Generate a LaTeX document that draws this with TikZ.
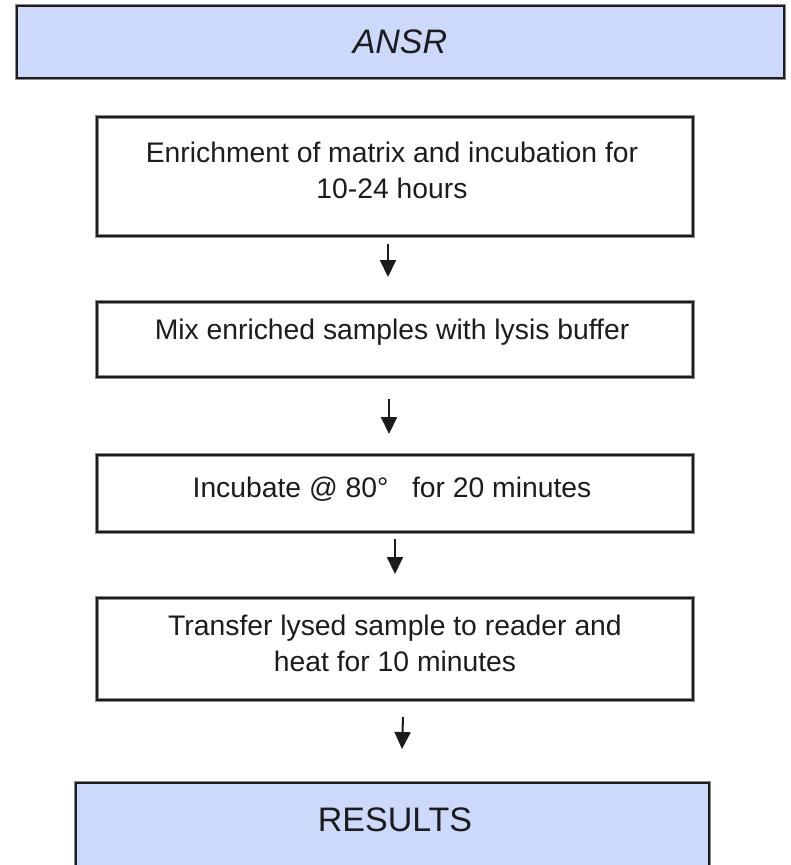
\documentclass[tikz,border=0pt]{standalone}
\usepackage{fontspec}
\setmainfont{Liberation Sans}
\usetikzlibrary{arrows.meta}
\definecolor{boxblue}{RGB}{204,217,250}
\definecolor{ink}{RGB}{28,28,28}
\begin{document}
\begin{tikzpicture}[x=1pt,y=-1pt,
  stepbox/.style={draw=ink, line width=2pt, inner sep=0pt, minimum width=596pt,
    preaction={draw=black!45, line width=3.6pt}},
  bluebox/.style={stepbox, fill=boxblue},
  txt/.style={font=\fontsize{28.3}{36}\selectfont, text=ink, align=center, inner sep=0pt},
  bigtxt/.style={font=\fontsize{34}{40}\selectfont, text=ink, inner sep=0pt},
  arr/.style={draw=ink, line width=2pt, -{Triangle[width=16pt,length=17pt]}}]
\useasboundingbox (0,0) rectangle (791,865);
\clip (0,0) rectangle (791,865);

% header
\node[bluebox, minimum width=767pt, minimum height=72pt] (ansr) at (400.5,42) {};
\node[bigtxt, font=\fontsize{34}{40}\selectfont\itshape] (ansrt) at (400,42) {ANSR};

% steps
\node[stepbox, minimum height=119pt] (b1) at (395,176.5) {};
\node[txt] (t1) at (392,170) {Enrichment of matrix and incubation for\\10-24 hours};

\node[stepbox, minimum height=75pt] (b2) at (395,339.5) {};
\node[txt] (t2) at (392,332.5) {Mix enriched samples with lysis buffer};

\node[stepbox, minimum height=77pt] (b3) at (395,493.5) {};
\node[txt] (t3) at (392,489.5) {Incubate @ 80°\ \ \ for 20 minutes};

\node[stepbox, minimum height=102pt] (b4) at (395,649) {};
\node[txt] (t4) at (395,643) {Transfer lysed sample to reader and\\heat for 10 minutes};

% results
\node[bluebox, minimum width=633pt, minimum height=140pt] (res) at (392.5,853) {};
\node[bigtxt] (rest) at (395,820) {RESULTS};

% arrows
\draw[arr, shorten <=7pt, shorten >=24pt] ([xshift=-7pt]b1.south) -- ([xshift=-7pt]b2.north);
\draw[arr, shorten <=21pt, shorten >=20pt] ([xshift=-6pt]b2.south) -- ([xshift=-6pt]b3.north);
\draw[arr, shorten <=6pt, shorten >=23pt] (b3.south) -- (b4.north);
\draw[arr, shorten <=16pt, shorten >=33pt] ([xshift=8.5pt]b4.south) -- ([xshift=8.5pt]res.north);
\end{tikzpicture}
\end{document}
